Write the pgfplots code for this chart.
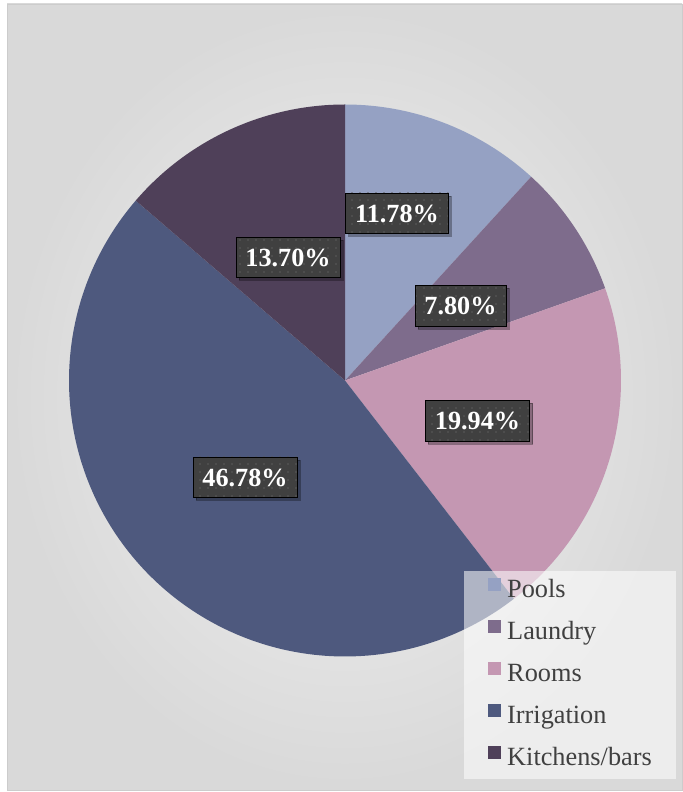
\documentclass[border=0pt]{standalone}
\usepackage{pgfplots}
\pgfplotsset{compat=1.18}
\usepackage{fontspec}
\setmainfont{Liberation Serif}
\usetikzlibrary{patterns.meta,shadows}
\definecolor{cPools}{HTML}{95A1C3}
\definecolor{cLaundry}{HTML}{7E6C8C}
\definecolor{cRooms}{HTML}{C497B2}
\definecolor{cIrrig}{HTML}{4E597E}
\definecolor{cKitch}{HTML}{4F4059}
\definecolor{boxgray}{HTML}{404040}
\definecolor{dotgray}{HTML}{5C5C5C}
\definecolor{txtgray}{HTML}{404040}
% data (percent)
\def\vPools{11.78}
\def\vLaundry{7.80}
\def\vRooms{19.94}
\def\vIrrig{46.78}
\def\vKitch{13.70}
\pgfmathsetmacro{\aA}{90}
\pgfmathsetmacro{\aB}{\aA-3.6*\vPools}
\pgfmathsetmacro{\aC}{\aB-3.6*\vLaundry}
\pgfmathsetmacro{\aD}{\aC-3.6*\vRooms}
\pgfmathsetmacro{\aE}{\aD-3.6*\vIrrig}
\pgfmathsetmacro{\aF}{\aE-3.6*\vKitch}
\def\cx{345}
\def\cy{411.5}
\def\rr{276}
\begin{document}
\begin{tikzpicture}
\begin{axis}[
  width=682bp, height=792bp, scale only axis,
  xmin=0, xmax=682, ymin=0, ymax=792,
  axis lines=none, clip=false,
  legend style={at={(axis cs:464,13)}, anchor=south west,
    fill=white, fill opacity=0.55, text opacity=1, draw=none,
    text=txtgray, font=\fontsize{26.4}{30}\selectfont,
    nodes={text height=18bp, text depth=6bp, inner sep=0pt},
    row sep=16bp, column sep=6bp, inner xsep=24bp, inner ysep=7bp},
  legend cell align=left,
  legend image code/.code={\fill[#1, fill opacity=1] (0bp,1bp) rectangle (13bp,14bp);},
]
\fill[white] (axis cs:0,0) rectangle (axis cs:682,792);
\shade[inner color=white!95!black, outer color=white!85!black] (axis cs:7,2) rectangle (axis cs:682,788);
\draw[white!80!black, line width=0.6bp] (axis cs:7,2) rectangle (axis cs:682,788);

\addplot[fill=cPools, draw=none, domain=\aB:\aA, samples=60, variable=\t]
  ({\cx+\rr*cos(\t)},{\cy+\rr*sin(\t)}) -- (axis cs:\cx,\cy) -- cycle;
\addplot[fill=cLaundry, draw=none, domain=\aC:\aB, samples=60, variable=\t]
  ({\cx+\rr*cos(\t)},{\cy+\rr*sin(\t)}) -- (axis cs:\cx,\cy) -- cycle;
\addplot[fill=cRooms, draw=none, domain=\aD:\aC, samples=80, variable=\t]
  ({\cx+\rr*cos(\t)},{\cy+\rr*sin(\t)}) -- (axis cs:\cx,\cy) -- cycle;
\addplot[fill=cIrrig, draw=none, domain=\aE:\aD, samples=150, variable=\t]
  ({\cx+\rr*cos(\t)},{\cy+\rr*sin(\t)}) -- (axis cs:\cx,\cy) -- cycle;
\addplot[fill=cKitch, draw=none, domain=\aF:\aE, samples=60, variable=\t]
  ({\cx+\rr*cos(\t)},{\cy+\rr*sin(\t)}) -- (axis cs:\cx,\cy) -- cycle;
\legend{Pools,Laundry,Rooms,Irrigation,Kitchens/bars}

\addplot[forget plot, only marks, mark=none, point meta=explicit symbolic,
  nodes near coords,
  every node near coord/.append style={anchor=center,
    font=\bfseries\fontsize{26.3}{30}\selectfont, text=white, fill=boxgray,
    inner xsep=9.5bp, inner ysep=11bp, text height=18.5bp, text depth=0bp,
    drop shadow={shadow xshift=3bp, shadow yshift=-3bp, opacity=0.3, fill=black},
    postaction={pattern={Dots[distance=8bp, radius=0.9bp]}, pattern color=dotgray}}]
  coordinates {
    (397,579) [11.78\%]
    (460.5,486.5) [7.80\%]
    (477.5,371.5) [19.94\%]
    (245,315) [46.78\%]
    (288,535) [13.70\%]
  };
\end{axis}
\end{tikzpicture}
\end{document}
